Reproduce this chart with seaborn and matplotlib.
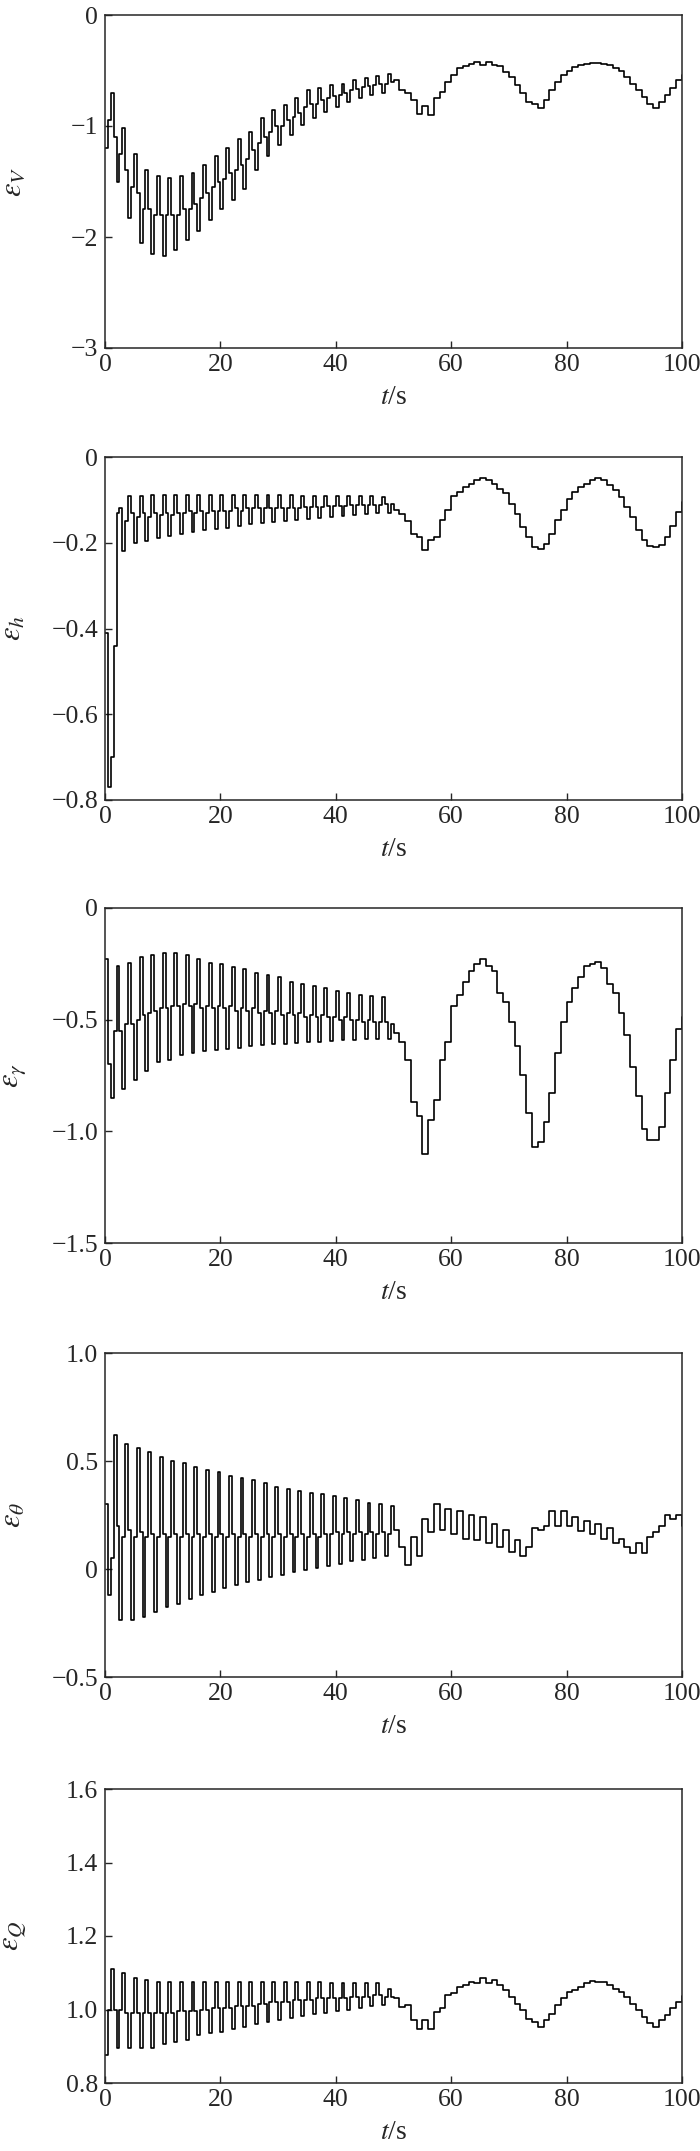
import numpy as np
import pandas as pd
import matplotlib
matplotlib.use("Agg")
import matplotlib.pyplot as plt
import seaborn as sns

# time grids: fast part sampled every 0.5 s, slow part every 1 s
t_osc = np.arange(0, 50, 0.5)
t_slow = np.arange(50, 101, 1.0)

# ---- eps_V ----
v_osc = [
    -1.20, -0.95, -0.70, -1.10,
    -1.50, -1.25, -1.02, -1.40,
    -1.83, -1.55, -1.25, -1.60,
    -2.05, -1.75, -1.40, -1.75,
    -2.15, -1.80, -1.45, -1.80,
    -2.17, -1.80, -1.47, -1.80,
    -2.12, -1.80, -1.45, -1.75,
    -2.03, -1.75, -1.42, -1.70,
    -1.95, -1.65, -1.35, -1.60,
    -1.85, -1.55, -1.27, -1.50,
    -1.75, -1.48, -1.20, -1.42,
    -1.67, -1.40, -1.12, -1.35,
    -1.57, -1.30, -1.05, -1.22,
    -1.40, -1.15, -0.93, -1.10,
    -1.27, -1.05, -0.86, -1.00,
    -1.17, -1.00, -0.81, -0.95,
    -1.08, -0.92, -0.75, -0.88,
    -0.99, -0.83, -0.68, -0.80,
    -0.93, -0.80, -0.66, -0.77,
    -0.87, -0.75, -0.63, -0.73,
    -0.83, -0.72, -0.62, -0.70,
    -0.78, -0.68, -0.59, -0.67,
    -0.75, -0.65, -0.57, -0.64,
    -0.72, -0.63, -0.55, -0.62,
    -0.70, -0.62, -0.53, -0.60,
]
v_slow = [
    -0.59, -0.68, -0.70, -0.77, -0.89, -0.82, -0.90, -0.75, -0.69, -0.60,
    -0.54, -0.48, -0.46, -0.44, -0.42, -0.45, -0.42, -0.45, -0.46, -0.51,
    -0.56, -0.63, -0.70, -0.78, -0.80, -0.84, -0.77, -0.68, -0.60, -0.54,
    -0.50, -0.47, -0.45, -0.44, -0.43, -0.43, -0.44, -0.45, -0.48, -0.50,
    -0.56, -0.62, -0.68, -0.74, -0.80, -0.84, -0.78, -0.72, -0.66, -0.59,
    -0.54,
]

# ---- eps_h ----
h_osc = [
    -0.41, -0.77, -0.70, -0.44,
    -0.13, -0.12, -0.22, -0.15,
    -0.09, -0.13, -0.20, -0.14,
    -0.09, -0.13, -0.195, -0.14,
    -0.088, -0.13, -0.19, -0.135,
    -0.088, -0.13, -0.185, -0.135,
    -0.088, -0.13, -0.18, -0.13,
    -0.088, -0.125, -0.175, -0.13,
    -0.088, -0.125, -0.17, -0.13,
    -0.088, -0.125, -0.168, -0.125,
    -0.088, -0.125, -0.165, -0.125,
    -0.088, -0.12, -0.16, -0.125,
    -0.088, -0.12, -0.157, -0.12,
    -0.088, -0.12, -0.155, -0.12,
    -0.088, -0.12, -0.152, -0.12,
    -0.089, -0.118, -0.15, -0.118,
    -0.089, -0.118, -0.147, -0.118,
    -0.09, -0.117, -0.145, -0.117,
    -0.09, -0.116, -0.142, -0.116,
    -0.09, -0.115, -0.14, -0.115,
    -0.091, -0.114, -0.137, -0.114,
    -0.091, -0.113, -0.135, -0.113,
    -0.092, -0.112, -0.132, -0.112,
    -0.092, -0.111, -0.13, -0.111,
    -0.093, -0.11, -0.13, -0.11,
]
h_slow = [
    -0.124, -0.132, -0.150, -0.180, -0.187, -0.217, -0.194, -0.187, -0.148, -0.124,
    -0.090, -0.082, -0.070, -0.062, -0.054, -0.050, -0.054, -0.062, -0.074, -0.085,
    -0.109, -0.132, -0.163, -0.187, -0.210, -0.214, -0.202, -0.180, -0.148, -0.124,
    -0.097, -0.082, -0.070, -0.062, -0.053, -0.050, -0.054, -0.066, -0.078, -0.093,
    -0.117, -0.140, -0.171, -0.194, -0.208, -0.210, -0.206, -0.187, -0.160, -0.128,
    -0.105,
]

# ---- eps_gamma ----
g_osc = [
    -0.23, -0.70, -0.85, -0.55,
    -0.26, -0.55, -0.81, -0.52,
    -0.245, -0.52, -0.77, -0.50,
    -0.22, -0.48, -0.73, -0.47,
    -0.21, -0.46, -0.69, -0.45,
    -0.20, -0.45, -0.68, -0.44,
    -0.20, -0.44, -0.66, -0.43,
    -0.21, -0.44, -0.65, -0.43,
    -0.23, -0.45, -0.64, -0.44,
    -0.245, -0.45, -0.635, -0.44,
    -0.25, -0.45, -0.63, -0.44,
    -0.265, -0.46, -0.625, -0.45,
    -0.275, -0.46, -0.62, -0.45,
    -0.29, -0.47, -0.615, -0.46,
    -0.30, -0.47, -0.61, -0.46,
    -0.31, -0.48, -0.61, -0.47,
    -0.33, -0.48, -0.605, -0.47,
    -0.34, -0.49, -0.60, -0.48,
    -0.35, -0.49, -0.60, -0.48,
    -0.36, -0.49, -0.595, -0.49,
    -0.37, -0.50, -0.59, -0.49,
    -0.38, -0.50, -0.59, -0.50,
    -0.39, -0.51, -0.585, -0.50,
    -0.395, -0.51, -0.585, -0.51,
    -0.40, -0.51, -0.585, -0.52,
]
g_slow = [
    -0.56, -0.60, -0.68, -0.87, -0.93, -1.10, -0.95, -0.86, -0.68, -0.60,
    -0.44, -0.39, -0.33, -0.28, -0.25, -0.23, -0.26, -0.28, -0.38, -0.42,
    -0.51, -0.62, -0.75, -0.92, -1.07, -1.05, -0.96, -0.83, -0.65, -0.51,
    -0.42, -0.36, -0.31, -0.26, -0.25, -0.24, -0.27, -0.34, -0.38, -0.47,
    -0.57, -0.71, -0.84, -0.99, -1.04, -1.04, -0.98, -0.83, -0.68, -0.54,
    -0.49,
]

# ---- eps_theta ----
th_osc = [
    0.30, -0.12, 0.05, 0.62,
    0.20, -0.235, 0.15, 0.58,
    0.18, -0.235, 0.15, 0.56,
    0.17, -0.22, 0.15, 0.54,
    0.16, -0.20, 0.15, 0.52,
    0.16, -0.175, 0.15, 0.50,
    0.16, -0.16, 0.15, 0.49,
    0.16, -0.14, 0.15, 0.47,
    0.16, -0.12, 0.15, 0.46,
    0.16, -0.105, 0.15, 0.45,
    0.16, -0.09, 0.15, 0.43,
    0.16, -0.073, 0.15, 0.42,
    0.16, -0.062, 0.15, 0.41,
    0.16, -0.05, 0.15, 0.40,
    0.16, -0.037, 0.15, 0.38,
    0.16, -0.026, 0.15, 0.37,
    0.16, -0.015, 0.15, 0.36,
    0.16, -0.003, 0.15, 0.35,
    0.16, 0.005, 0.15, 0.345,
    0.16, 0.015, 0.16, 0.34,
    0.17, 0.025, 0.16, 0.33,
    0.17, 0.035, 0.16, 0.32,
    0.17, 0.043, 0.16, 0.305,
    0.17, 0.05, 0.16, 0.30,
    0.17, 0.06, 0.16, 0.29,
]
th_slow = [
    0.18, 0.10, 0.02, 0.15, 0.06, 0.23, 0.17, 0.30, 0.18, 0.28,
    0.16, 0.27, 0.14, 0.25, 0.135, 0.24, 0.12, 0.21, 0.10, 0.18,
    0.08, 0.135, 0.06, 0.10, 0.19, 0.18, 0.20, 0.27, 0.20, 0.27,
    0.20, 0.24, 0.175, 0.22, 0.16, 0.21, 0.14, 0.19, 0.12, 0.14,
    0.10, 0.075, 0.12, 0.075, 0.15, 0.17, 0.20, 0.25, 0.23, 0.25,
    0.20,
]

# ---- eps_Q ----
q_osc = [
    0.875, 1.00, 1.11, 1.00,
    0.895, 1.00, 1.10, 0.99,
    0.895, 0.99, 1.085, 0.99,
    0.895, 0.99, 1.08, 0.99,
    0.895, 0.99, 1.075, 0.99,
    0.905, 0.99, 1.075, 0.99,
    0.912, 0.995, 1.075, 0.995,
    0.917, 0.995, 1.075, 0.995,
    0.93, 1.00, 1.075, 1.00,
    0.935, 1.005, 1.075, 1.005,
    0.94, 1.005, 1.075, 1.005,
    0.948, 1.01, 1.075, 1.01,
    0.953, 1.01, 1.075, 1.01,
    0.96, 1.015, 1.075, 1.015,
    0.967, 1.02, 1.075, 1.02,
    0.971, 1.02, 1.075, 1.02,
    0.977, 1.025, 1.074, 1.025,
    0.982, 1.025, 1.074, 1.025,
    0.987, 1.03, 1.074, 1.03,
    0.991, 1.03, 1.073, 1.03,
    0.995, 1.03, 1.073, 1.03,
    1.00, 1.035, 1.072, 1.035,
    1.005, 1.035, 1.072, 1.035,
    1.009, 1.04, 1.072, 1.04,
    1.012, 1.035, 1.055, 1.035,
]
q_slow = [
    1.030, 1.007, 1.012, 0.971, 0.948, 0.972, 0.948, 0.994, 1.003, 1.039,
    1.044, 1.062, 1.066, 1.075, 1.071, 1.085, 1.071, 1.080, 1.066, 1.053,
    1.035, 1.016, 0.998, 0.975, 0.966, 0.953, 0.971, 0.989, 1.012, 1.030,
    1.048, 1.053, 1.062, 1.071, 1.078, 1.075, 1.075, 1.066, 1.057, 1.048,
    1.035, 1.016, 0.998, 0.980, 0.962, 0.953, 0.971, 0.985, 1.003, 1.021,
    1.036,
]

ylabels = [r'$\varepsilon_V$', r'$\varepsilon_h$', r'$\varepsilon_\gamma$',
           r'$\varepsilon_\theta$', r'$\varepsilon_Q$']
yticks = [[0, -1, -2, -3],
          [0, -0.2, -0.4, -0.6, -0.8],
          [0, -0.5, -1.0, -1.5],
          [1.0, 0.5, 0, -0.5],
          [1.6, 1.4, 1.2, 1.0, 0.8]]
yticklabels = [['0', '\u22121', '\u22122', '\u22123'],
               ['0', '\u22120.2', '\u22120.4', '\u22120.6', '\u22120.8'],
               ['0', '\u22120.5', '\u22121.0', '\u22121.5'],
               ['1.0', '0.5', '0', '\u22120.5'],
               ['1.6', '1.4', '1.2', '1.0', '0.8']]
xticks = [0, 20, 40, 60, 80, 100]

series = [(v_osc, v_slow), (h_osc, h_slow), (g_osc, g_slow),
          (th_osc, th_slow), (q_osc, q_slow)]

sns.set_style("ticks")
plt.rcParams['font.family'] = ['Liberation Serif', 'DejaVu Serif']
plt.rcParams['mathtext.fontset'] = 'stix'

W, H = 700, 2151
fig = plt.figure(figsize=(W / 100, H / 100), dpi=100)

# panel boxes in pixels (top, bottom)
boxes = [(15, 348), (457, 800), (908, 1243), (1353, 1677), (1789, 2083)]
left_px, right_px = 105, 682

for i, (osc, slow) in enumerate(series):
    top, bot = boxes[i]
    ax = fig.add_axes([left_px / W, 1 - bot / H, (right_px - left_px) / W, (bot - top) / H])
    df = pd.DataFrame({'t': np.concatenate([t_osc, t_slow]),
                       'e': np.concatenate([osc, slow])})
    sns.lineplot(data=df, x='t', y='e', ax=ax, color='black', linewidth=1.2,
                 drawstyle='steps-post', estimator=None, sort=False)
    ax.set_xlim(0, 100)
    lo, hi = min(yticks[i]), max(yticks[i])
    ax.set_ylim(lo, hi)
    ax.set_xticks(xticks)
    ax.set_xticklabels([str(x) for x in xticks])
    ax.set_yticks(yticks[i])
    ax.set_yticklabels(yticklabels[i])
    ax.tick_params(axis='both', direction='in', length=5, width=1.0,
                   labelsize=18.5, top=False, right=False)
    ax.tick_params(axis='x', pad=4)
    ax.tick_params(axis='y', pad=5)
    for s in ax.spines.values():
        s.set_linewidth(1.1)
        s.set_visible(True)
    ax.set_xlabel(r'$t$/s', fontsize=20, labelpad=7)
    ax.set_ylabel(ylabels[i], fontsize=22)
    ax.yaxis.set_label_coords(-0.133, 0.5)

fig.savefig('out.png', dpi=100)
